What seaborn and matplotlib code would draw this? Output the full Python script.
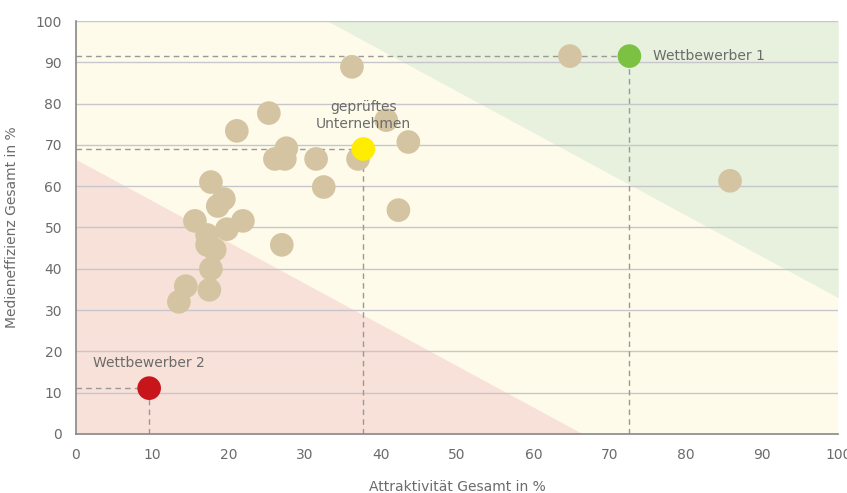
import numpy as np
import pandas as pd
import matplotlib
matplotlib.use("Agg")
import matplotlib.pyplot as plt
import seaborn as sns

# Data
attraktivitaet = [64.8, 36.2, 25.3, 21.1, 40.7, 43.6, 27.6, 26.1, 27.4, 31.5,
                  37.0, 32.5, 42.3, 85.8, 17.7, 19.4, 18.6, 21.9, 15.6, 19.8,
                  17.2, 17.2, 18.2, 27.0, 17.7, 14.4, 17.5, 13.5]
medieneffizienz = [91.5, 88.9, 77.7, 73.4, 76.0, 70.7, 69.2, 66.6, 66.6, 66.6,
                   66.6, 59.8, 54.2, 61.3, 61.0, 56.9, 55.2, 51.6, 51.6, 49.6,
                   48.2, 45.8, 44.6, 45.8, 40.0, 35.8, 34.9, 32.0]

highlight_names = ["Wettbewerber 1", "Wettbewerber 2", "geprüftes\nUnternehmen"]
highlight_x = [72.6, 9.6, 37.7]
highlight_y = [91.5, 11.1, 69.0]
highlight_colors = ["#7dc142", "#c8151b", "#ffed00"]

# zone boundaries: x + y = const
low_zone = 66.5
high_zone = 133.0

text_color = "#6b6b6b"

sns.set_theme(style="white")
plt.rcParams["font.family"] = ["DejaVu Sans"]

fig = plt.figure(figsize=(8.47, 4.93), dpi=100)
ax = fig.add_axes([0.0897, 0.1197, 0.9, 0.8377])
ax.set_xlim(0, 100)
ax.set_ylim(0, 100)

# background zones
xs = np.linspace(0, 100, 201)
ax.fill_between(xs, 0, 100, color="#fefbea", zorder=0, linewidth=0)
ax.fill_between(xs, 0, np.clip(low_zone - xs, 0, 100), color="#f8e1d8",
                zorder=0.1, linewidth=0)
ax.fill_between(xs, np.clip(high_zone - xs, 0, 100), 100, color="#e7f1de",
                zorder=0.1, linewidth=0)

for yv in range(10, 101, 10):
    ax.axhline(yv, color="#c6c6cc", linewidth=1, zorder=0.5)

# dashed guide lines
for hx, hy in zip(highlight_x, highlight_y):
    ax.plot([0, hx], [hy, hy], color="#999999", linestyle=(0, (4, 3)),
            linewidth=1, zorder=1)
    ax.plot([hx, hx], [0, hy], color="#999999", linestyle=(0, (4, 3)),
            linewidth=1, zorder=1)

df = pd.DataFrame({"x": attraktivitaet, "y": medieneffizienz})
sns.scatterplot(data=df, x="x", y="y", color="#d5c4a1", s=290,
                edgecolor="none", ax=ax, zorder=2)

hdf = pd.DataFrame({"x": highlight_x, "y": highlight_y, "name": highlight_names})
sns.scatterplot(data=hdf, x="x", y="y", hue="name",
                palette=dict(zip(highlight_names, highlight_colors)),
                s=290, edgecolor="none", ax=ax, zorder=3, legend=False)

ax.annotate(highlight_names[0], (highlight_x[0], highlight_y[0]),
            xytext=(17, 0), textcoords="offset points", va="center",
            ha="left", fontsize=10, color=text_color)
ax.annotate(highlight_names[1], (highlight_x[1], highlight_y[1]),
            xytext=(0, 18), textcoords="offset points", va="center",
            ha="center", fontsize=10, color=text_color)
ax.annotate(highlight_names[2], (highlight_x[2], highlight_y[2]),
            xytext=(0, 24), textcoords="offset points", va="center",
            ha="center", fontsize=10, color=text_color, linespacing=1.3)

ax.set_xticks(range(0, 101, 10))
ax.set_yticks(range(0, 101, 10))
ax.tick_params(axis="both", length=0, labelsize=10, labelcolor=text_color, pad=10)
ax.set_xlabel("Attraktivität Gesamt in %", fontsize=10, color=text_color, labelpad=13)
ax.set_ylabel("Medieneffizienz Gesamt in %", fontsize=10, color=text_color, labelpad=12)

for side in ["top", "right"]:
    ax.spines[side].set_visible(False)
for side in ["left", "bottom"]:
    ax.spines[side].set_color("#888888")
    ax.spines[side].set_linewidth(1.2)
    ax.spines[side].set_zorder(4)

fig.savefig("out.png", dpi=100)
